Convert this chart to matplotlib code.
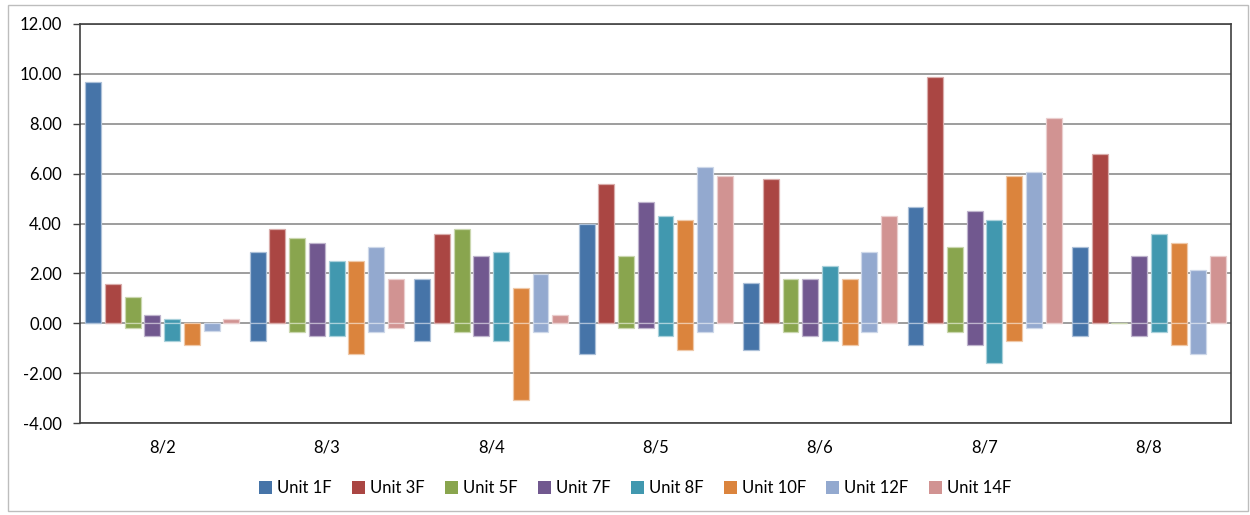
import matplotlib
matplotlib.use("Agg")
import matplotlib.pyplot as plt
import numpy as np
from matplotlib.patches import Rectangle

plt.rcParams['font.family'] = ['Lato', 'DejaVu Sans']

categories = ["8/2", "8/3", "8/4", "8/5", "8/6", "8/7", "8/8"]
series = ["Unit 1F", "Unit 3F", "Unit 5F", "Unit 7F", "Unit 8F", "Unit 10F", "Unit 12F", "Unit 14F"]

pos_1F = [9.69, 2.86, 1.78, 3.97, 1.61, 4.67, 3.04]
pos_3F = [1.59, 3.77, 3.59, 5.58, 5.77, 9.89, 6.80]
pos_5F = [1.06, 3.41, 3.77, 2.68, 1.78, 3.05, 0.00]
pos_7F = [0.32, 3.22, 2.68, 4.86, 1.78, 4.50, 2.68]
pos_8F = [0.16, 2.50, 2.86, 4.31, 2.31, 4.13, 3.59]
pos_10F = [0.00, 2.50, 1.42, 4.13, 1.78, 5.90, 3.22]
pos_12F = [0.00, 3.04, 1.97, 6.25, 2.86, 6.07, 2.14]
pos_14F = [0.16, 1.78, 0.33, 5.90, 4.31, 8.25, 2.68]

neg_1F = [0.00, -0.71, -0.71, -1.24, -1.07, -0.88, -0.52]
neg_3F = [0.00, 0.00, 0.00, 0.00, 0.00, 0.00, 0.00]
neg_5F = [-0.20, -0.35, -0.35, -0.20, -0.35, -0.35, 0.00]
neg_7F = [-0.52, -0.52, -0.52, -0.20, -0.52, -0.88, -0.52]
neg_8F = [-0.71, -0.52, -0.71, -0.52, -0.71, -1.61, -0.35]
neg_10F = [-0.88, -1.24, -3.06, -1.07, -0.88, -0.71, -0.88]
neg_12F = [-0.33, -0.35, -0.35, -0.35, -0.35, -0.20, -1.24]
neg_14F = [0.00, -0.20, 0.00, 0.00, 0.00, 0.00, 0.00]

pos_vals = [pos_1F, pos_3F, pos_5F, pos_7F, pos_8F, pos_10F, pos_12F, pos_14F]
neg_vals = [neg_1F, neg_3F, neg_5F, neg_7F, neg_8F, neg_10F, neg_12F, neg_14F]

colors = ["#4674A8", "#AA4643", "#89A54E", "#71588F", "#4198AF", "#DB843D", "#93A9CF", "#D19392"]
yticks = [-4, -2, 0, 2, 4, 6, 8, 10, 12]

def lighten(c, f=0.55):
    rgb = np.array(matplotlib.colors.to_rgb(c))
    return tuple(rgb + (1 - rgb) * f)

fig = plt.figure(figsize=(12.5, 5.15), dpi=100)
ax = fig.add_axes([0.064, 0.1786, 0.921, 0.7748])

x = np.arange(len(categories))
step = 0.12
w = 0.097
n = len(series)
for i in range(n):
    off = (i - (n - 1) / 2) * step
    ax.bar(x + off, pos_vals[i], w, color=colors[i], edgecolor=lighten(colors[i]),
           linewidth=0.9, label=series[i], zorder=3)
    ax.bar(x + off, neg_vals[i], w, color=colors[i], edgecolor=lighten(colors[i]),
           linewidth=0.9, zorder=3)

ax.set_xlim(-0.5, len(categories) - 0.5)
ax.set_ylim(-4, 12)
ax.set_yticks(yticks)
ax.set_yticklabels([f"{v:.2f}" for v in yticks], fontsize=12)
ax.set_xticks(x)
ax.set_xticklabels(categories, fontsize=12)
ax.tick_params(axis='x', length=0, pad=12)
ax.tick_params(axis='y', length=5, width=1, color='#404040', pad=8)
ax.grid(axis='y', color='#8c8c8c', linewidth=1.2, zorder=1)
ax.set_axisbelow(True)
for s in ax.spines.values():
    s.set_color('#404040')
    s.set_linewidth(1.2)

leg = fig.legend(loc='center', bbox_to_anchor=(0.508, 0.052), ncol=8, frameon=False,
                 fontsize=12, handlelength=0.8, handleheight=0.8, handletextpad=0.3,
                 columnspacing=1.2)
for h in leg.legend_handles:
    h.set_edgecolor('none')

fig.patches.append(Rectangle((8 / 1250, 4 / 515), 1240 / 1250, 506 / 515,
                             transform=fig.transFigure, fill=False,
                             edgecolor='#bdbdbd', linewidth=1.0))

fig.savefig("out.png", dpi=100)
